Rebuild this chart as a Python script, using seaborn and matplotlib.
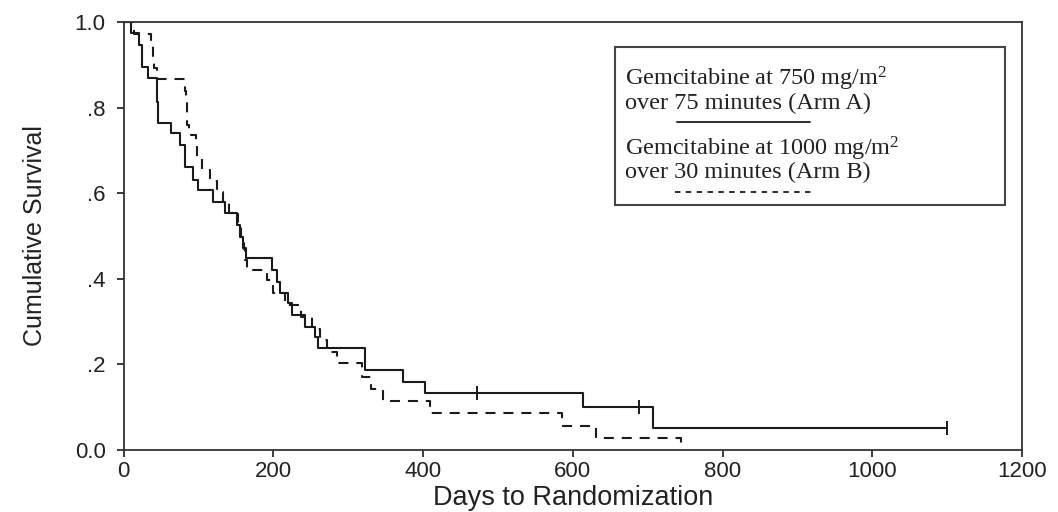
import numpy as np
import pandas as pd
import matplotlib
matplotlib.use("Agg")
import matplotlib.pyplot as plt
from matplotlib.patches import Rectangle
import seaborn as sns

# Kaplan-Meier step points: day of each event and survival after it
arm_a_days = [0, 10, 20, 24, 33, 45, 46, 63, 75, 82, 92, 99, 119, 135, 151, 155, 159, 163,
              198, 205, 209, 219, 225, 242, 255, 260, 322, 373, 402, 613, 707, 1100]
arm_a_surv = [1.0, 0.974, 0.946, 0.895, 0.869, 0.813, 0.764, 0.740, 0.713, 0.661, 0.631,
              0.607, 0.579, 0.553, 0.526, 0.498, 0.472, 0.449, 0.420, 0.393, 0.366, 0.343,
              0.315, 0.287, 0.264, 0.238, 0.187, 0.159, 0.133, 0.100, 0.051, 0.051]

arm_b_days = [0, 14, 37, 39, 41, 44, 82, 83, 84, 85, 87, 96, 98, 104, 115, 124, 132, 140,
              152, 156, 160, 162, 164, 191, 200, 215, 237, 251, 262, 271, 285, 318, 330,
              346, 409, 585, 631, 744]
arm_b_surv = [1.0, 0.971, 0.943, 0.914, 0.893, 0.867, 0.840, 0.813, 0.787, 0.760, 0.735,
              0.710, 0.683, 0.655, 0.628, 0.603, 0.580, 0.552, 0.526, 0.498, 0.470, 0.444,
              0.420, 0.397, 0.368, 0.339, 0.311, 0.283, 0.256, 0.229, 0.203, 0.171, 0.143,
              0.114, 0.086, 0.057, 0.029, 0.0]

# censored observations (days)
censor_a_days = [472, 688, 1100]

arm_labels = ["Arm A", "Arm B"]
legend_lines = [
    ["Gemcitabine at 750 mg/m$^2$", "over 75 minutes (Arm A)"],
    ["Gemcitabine at 1000 mg/m$^2$", "over 30 minutes (Arm B)"],
]
x_ticks = [0, 200, 400, 600, 800, 1000, 1200]
y_ticks = [0.0, 0.2, 0.4, 0.6, 0.8, 1.0]
y_tick_labels = ["0.0", ".2", ".4", ".6", ".8", "1.0"]

sns.set_style("ticks")
plt.rcParams["font.family"] = ["Liberation Sans", "DejaVu Sans"]
plt.rcParams["mathtext.fontset"] = "custom"
plt.rcParams["mathtext.rm"] = "Liberation Serif"
plt.rcParams["mathtext.it"] = "Liberation Serif:italic"
plt.rcParams["mathtext.bf"] = "Liberation Serif:bold"

df = pd.concat([
    pd.DataFrame({"day": arm_a_days, "surv": arm_a_surv, "arm": arm_labels[0]}),
    pd.DataFrame({"day": arm_b_days, "surv": arm_b_surv, "arm": arm_labels[1]}),
], ignore_index=True)

# survival level at each censoring time, looked up on the step function
idx = np.searchsorted(arm_a_days, censor_a_days, side="right") - 1
censor_a_surv = np.asarray(arm_a_surv)[idx]

fig = plt.figure(figsize=(10.58, 5.12), dpi=100)
ax = fig.add_axes([0.117, 0.121, 0.849, 0.836])

ink = "#1a1a1a"
sns.lineplot(data=df, x="day", y="surv", style="arm", estimator=None,
             dashes={arm_labels[0]: "", arm_labels[1]: (4.8, 3.8)},
             drawstyle="steps-post", color=ink, linewidth=1.5, legend=False, ax=ax)
sns.scatterplot(x=censor_a_days, y=censor_a_surv, marker="|", s=110, color=ink,
                linewidth=1.4, legend=False, ax=ax, zorder=3)

ax.set_xlim(0, 1200)
ax.set_ylim(0, 1.0)
ax.set_xticks(x_ticks)
ax.set_yticks(y_ticks)
ax.set_yticklabels(y_tick_labels)
ax.tick_params(axis="both", direction="out", length=5, width=1.2, colors=ink,
               labelsize=16, labelcolor="#222222")
ax.tick_params(axis="y", pad=8)
ax.tick_params(axis="x", pad=3)
for s in ax.spines.values():
    s.set_linewidth(1.3)
    s.set_color("#333333")
    s.set_visible(True)

ax.set_xlabel("Days to Randomization", fontsize=19.5, color="#222222", labelpad=2)
ax.set_ylabel("Cumulative Survival", fontsize=18, color="#222222", labelpad=20)

# legend panel: text with a line sample underneath each entry
ax.add_patch(Rectangle((0.547, 0.572), 0.434, 0.370, transform=ax.transAxes,
                       fill=False, edgecolor="#444444", linewidth=1.5, zorder=4))
serif = ["Liberation Serif", "DejaVu Serif"]
text_y = [(0.866, 0.810), (0.703, 0.649)]
for (l1, l2), (y1, y2) in zip(legend_lines, text_y):
    ax.text(0.558, y1, l1, transform=ax.transAxes, fontsize=17.5, family=serif,
            va="center", ha="left", color="#222222")
    ax.text(0.558, y2, l2, transform=ax.transAxes, fontsize=17.5, family=serif,
            va="center", ha="left", color="#222222")
ax.plot([0.616, 0.764], [0.767, 0.767], transform=ax.transAxes, color=ink, linewidth=1.3)
ax.plot([0.614, 0.770], [0.603, 0.603], transform=ax.transAxes, color=ink, linewidth=1.3,
        dashes=(3, 3))

fig.savefig("out.png", dpi=100)
